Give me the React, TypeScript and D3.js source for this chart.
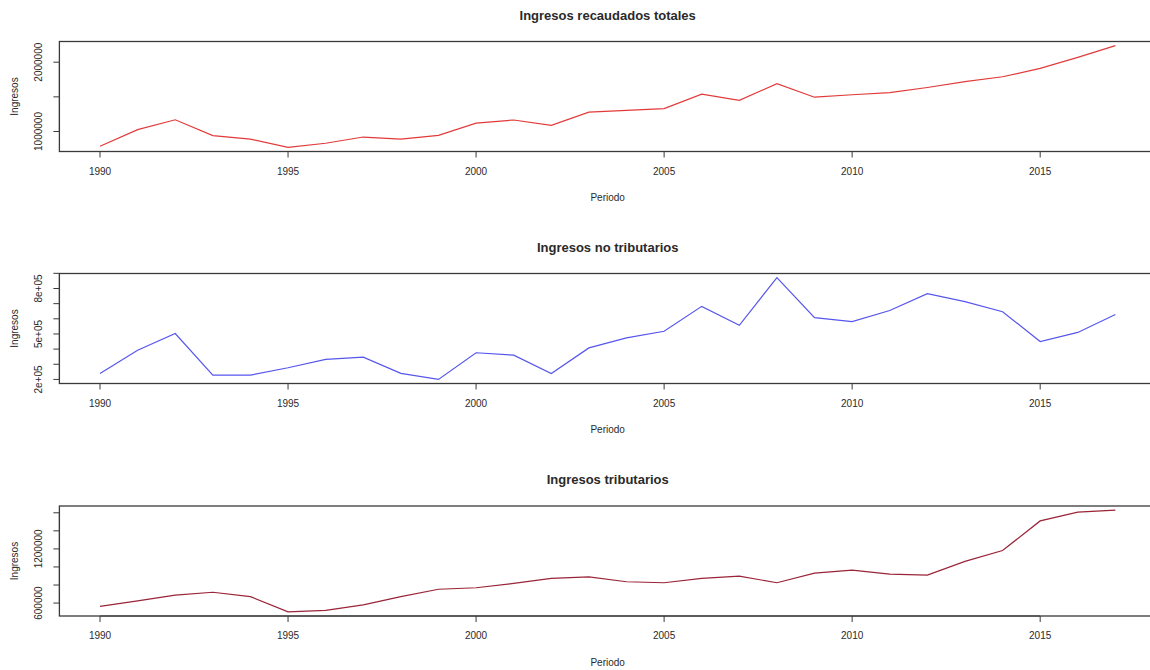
import React from "react";
import * as d3 from "d3";

const years = [1990, 1991, 1992, 1993, 1994, 1995, 1996, 1997, 1998, 1999, 2000, 2001, 2002, 2003, 2004, 2005, 2006, 2007, 2008, 2009, 2010, 2011, 2012, 2013, 2014, 2015, 2016, 2017];

const totales = [786000, 1026000, 1169000, 940000, 890000, 770000, 830000, 920000, 890000, 944000, 1120000, 1166000, 1088000, 1280000, 1305000, 1330000, 1540000, 1450000, 1690000, 1495000, 1530000, 1560000, 1635000, 1720000, 1790000, 1910000, 2070000, 2240000];

const noTributarios = [239000, 393000, 503000, 228000, 228000, 277000, 332000, 347000, 240000, 200000, 376000, 360000, 239000, 408000, 474000, 518000, 682000, 557000, 872000, 608000, 582000, 655000, 766000, 713000, 647000, 450000, 510000, 628000];

const tributarios = [563000, 625000, 687000, 720000, 672000, 502000, 519000, 581000, 672000, 753000, 770000, 818000, 873000, 890000, 836000, 825000, 873000, 898000, 825000, 931000, 964000, 920000, 909000, 1062000, 1182000, 1510000, 1608000, 1630000];

const xTicks = [1990, 1995, 2000, 2005, 2010, 2015];

const yTicks1 = [1000000, 1500000, 2000000];
const yLabels1 = ["1000000", "", "2000000"];
const yTicks2 = [200000, 300000, 400000, 500000, 600000, 700000, 800000, 900000];
const yLabels2 = ["2e+05", "", "", "5e+05", "", "", "8e+05", ""];
const yTicks3 = [600000, 800000, 1000000, 1200000, 1400000, 1600000];
const yLabels3 = ["600000", "", "", "1200000", "", ""];

const titles = ["Ingresos recaudados totales", "Ingresos no tributarios", "Ingresos tributarios"];
const xLabel = "Periodo";
const yLabel = "Ingresos";

const panels = [
  { title: titles[0], values: totales, ticks: yTicks1, labels: yLabels1, color: "#e23a3a" },
  { title: titles[1], values: noTributarios, ticks: yTicks2, labels: yLabels2, color: "#5656ee" },
  { title: titles[2], values: tributarios, ticks: yTicks3, labels: yLabels3, color: "#9a2438" },
];

const W = 1150;
const H = 670;
const LEFT = 59.4;
const RIGHT = 1156;
const TOPS = [41.5, 273.5, 506];
const PH = 110;
const FONT = "'Liberation Sans', Arial, Helvetica, sans-serif";
const TXT = "#2a2a2a";

function Panel({ p, top }: { p: any; top: number }) {
  const xr = years[years.length - 1] - years[0];
  const x = d3
    .scaleLinear()
    .domain([years[0] - 0.04 * xr, years[years.length - 1] + 0.04 * xr])
    .range([LEFT, RIGHT]);
  const [mn, mx] = d3.extent(p.values as number[]) as [number, number];
  const yr = mx - mn;
  const bottom = top + PH;
  const y = d3
    .scaleLinear()
    .domain([mn - 0.04 * yr, mx + 0.04 * yr])
    .range([bottom, top]);
  const line = d3
    .line<number>()
    .x((_, i) => x(years[i]))
    .y((d) => y(d));
  const midY = (top + bottom) / 2;
  const cx = (LEFT + RIGHT) / 2;
  const yt = p.ticks as number[];
  return (
    <g>
      <text x={cx} y={top - 25} textAnchor="middle" dominantBaseline="middle" fontWeight="bold" fontSize={13} fill={TXT} fontFamily={FONT}>
        {p.title}
      </text>
      <path d={line(p.values) || ""} fill="none" stroke={p.color} strokeWidth={1.2} />
      <rect x={LEFT} y={top} width={RIGHT - LEFT} height={PH} fill="none" stroke="#3a3a3a" strokeWidth={1.3} />
      {/* x axis */}
      <line x1={x(xTicks[0])} x2={x(xTicks[xTicks.length - 1])} y1={bottom} y2={bottom} stroke="#3a3a3a" />
      {xTicks.map((t) => (
        <g key={t}>
          <line x1={x(t)} x2={x(t)} y1={bottom} y2={bottom + 6} stroke="#3a3a3a" />
          <text x={x(t)} y={bottom + 20.5} textAnchor="middle" dominantBaseline="middle" fontSize={10} fill={TXT} fontFamily={FONT}>
            {t}
          </text>
        </g>
      ))}
      <text x={cx} y={bottom + 47} textAnchor="middle" dominantBaseline="middle" fontSize={10} fill={TXT} fontFamily={FONT}>
        {xLabel}
      </text>
      {/* y axis */}
      <line x1={LEFT} x2={LEFT} y1={y(yt[0])} y2={y(yt[yt.length - 1])} stroke="#3a3a3a" />
      {yt.map((t, i) => (
        <g key={t}>
          <line x1={LEFT - 6} x2={LEFT} y1={y(t)} y2={y(t)} stroke="#3a3a3a" />
          {p.labels[i] ? (
            <text
              transform={`translate(${LEFT - 20},${y(t)}) rotate(-90)`}
              textAnchor="middle"
              dominantBaseline="middle"
              fontSize={10}
              fill={TXT}
              fontFamily={FONT}
            >
              {p.labels[i]}
            </text>
          ) : null}
        </g>
      ))}
      <text
        transform={`translate(15,${midY}) rotate(-90)`}
        textAnchor="middle"
        dominantBaseline="middle"
        fontSize={10}
        fill={TXT}
        fontFamily={FONT}
      >
        {yLabel}
      </text>
    </g>
  );
}

export default function App() {
  return (
    <svg
      width={W}
      height={H}
      style={{ position: "absolute", left: 0, top: 0, background: "#fff" }}
    >
      <rect x={0} y={0} width={W} height={H} fill="#fff" />
      {panels.map((p, i) => (
        <Panel key={i} p={p} top={TOPS[i]} />
      ))}
    </svg>
  );
}
